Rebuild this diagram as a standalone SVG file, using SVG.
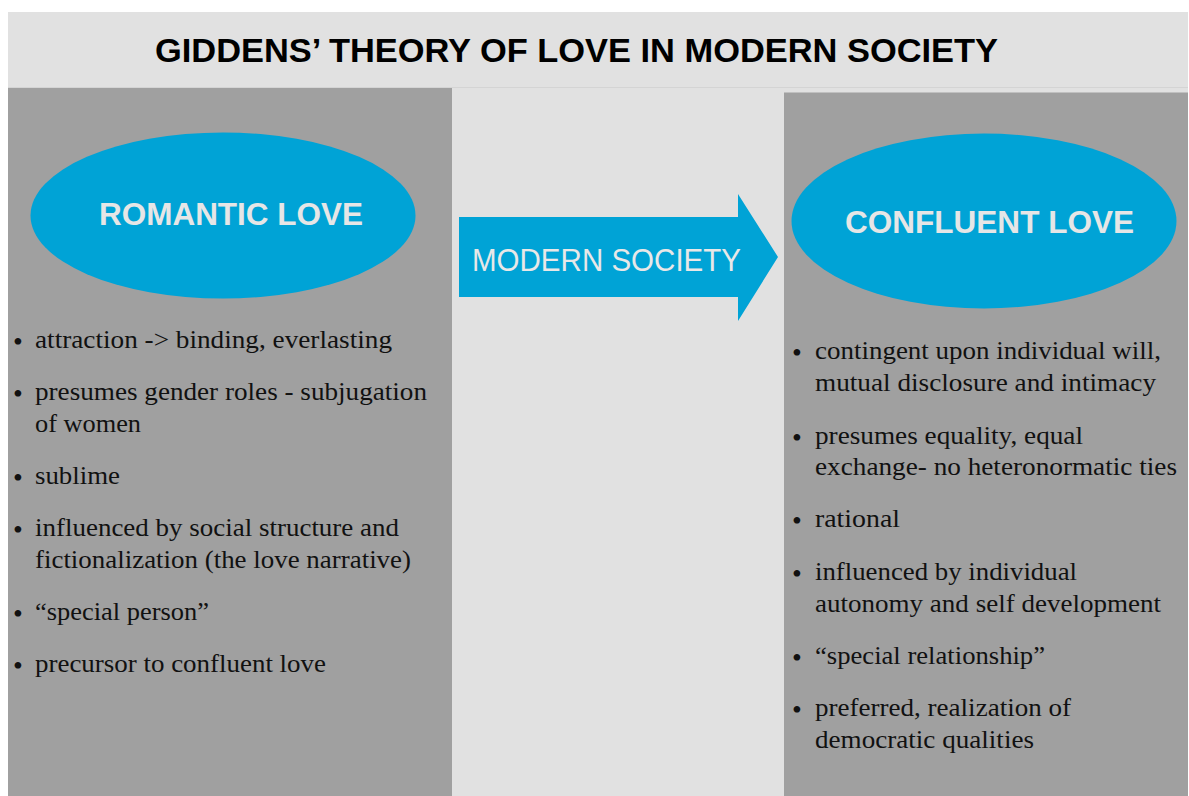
<svg xmlns="http://www.w3.org/2000/svg" width="1189" height="796" viewBox="0 0 1189 796">
  <style>
    .panel { fill: #a0a0a0; }
    .blue { fill: #00a3d6; }
    .title { font-family: "Liberation Sans", Arial, sans-serif; font-weight: bold; font-size: 33px; fill: #000000; }
    .oval { font-family: "Liberation Sans", Arial, sans-serif; font-weight: bold; font-size: 31px; fill: #e6e6e6; text-anchor: middle; }
    .arrowtxt { font-family: "Liberation Sans", Arial, sans-serif; font-size: 31px; fill: #e8e8e8; }
    .item { font-family: "Liberation Serif", "Times New Roman", serif; font-size: 26px; fill: #111111; }
    .bul { font-family: "Liberation Serif", "Times New Roman", serif; font-size: 28px; fill: #111111; text-anchor: middle; }
  </style>
  <rect x="0" y="0" width="1189" height="796" fill="#ffffff"/>
  <rect x="8" y="12" width="1180" height="784" fill="#e1e1e1"/>
  <line x1="8" y1="87.5" x2="1188" y2="87.5" stroke="#d4d4d4" stroke-width="1"/>
  <text class="title" x="155" y="62" textLength="843" lengthAdjust="spacingAndGlyphs">GIDDENS’ THEORY OF LOVE IN MODERN SOCIETY</text>

  <g id="left-panel">
    <rect class="panel" x="8" y="88" width="444" height="708"/>
  </g>
  <g id="right-panel">
    <rect class="panel" x="784" y="92.5" width="404" height="703.5"/>
  </g>

  <g id="romantic-love">
    <ellipse class="blue" cx="223" cy="215.5" rx="192.5" ry="83"/>
    <text class="oval" x="231" y="224.5" textLength="264" lengthAdjust="spacingAndGlyphs">ROMANTIC LOVE</text>
  </g>

  <g id="confluent-love">
    <ellipse class="blue" cx="984" cy="221" rx="192.5" ry="87.5"/>
    <text class="oval" x="989.5" y="232.7" textLength="289" lengthAdjust="spacingAndGlyphs">CONFLUENT LOVE</text>
  </g>

  <g id="connectors">
    <g id="modern-society-arrow">
      <polygon class="blue" points="459,217 738,217 738,194 778,257 738,321 738,297 459,297"/>
      <text class="arrowtxt" x="472" y="270.7" textLength="269" lengthAdjust="spacingAndGlyphs">MODERN SOCIETY</text>
    </g>
  </g>

  <g id="romantic-list">
    <text class="bul" x="18" y="351">•</text>
    <text class="item" x="35" y="348" textLength="357" lengthAdjust="spacingAndGlyphs">attraction -&gt; binding, everlasting</text>
    <text class="bul" x="18" y="403">•</text>
    <text class="item" x="35" y="400" textLength="392" lengthAdjust="spacingAndGlyphs">presumes gender roles - subjugation</text>
    <text class="item" x="35" y="432" textLength="106" lengthAdjust="spacingAndGlyphs">of women</text>
    <text class="bul" x="18" y="487">•</text>
    <text class="item" x="35" y="484" textLength="85" lengthAdjust="spacingAndGlyphs">sublime</text>
    <text class="bul" x="18" y="539">•</text>
    <text class="item" x="35" y="536" textLength="364" lengthAdjust="spacingAndGlyphs">influenced by social structure and</text>
    <text class="item" x="35" y="568" textLength="376" lengthAdjust="spacingAndGlyphs">fictionalization (the love narrative)</text>
    <text class="bul" x="18" y="623">•</text>
    <text class="item" x="35" y="620" textLength="174" lengthAdjust="spacingAndGlyphs">“special person”</text>
    <text class="bul" x="18" y="675">•</text>
    <text class="item" x="35" y="672" textLength="291" lengthAdjust="spacingAndGlyphs">precursor to confluent love</text>
  </g>

  <g id="confluent-list">
    <text class="bul" x="797" y="362">•</text>
    <text class="item" x="815" y="359" textLength="346" lengthAdjust="spacingAndGlyphs">contingent upon individual will,</text>
    <text class="item" x="815" y="391" textLength="341" lengthAdjust="spacingAndGlyphs">mutual disclosure and intimacy</text>
    <text class="bul" x="797" y="447">•</text>
    <text class="item" x="815" y="444" textLength="268" lengthAdjust="spacingAndGlyphs">presumes equality, equal</text>
    <text class="item" x="815" y="475" textLength="362" lengthAdjust="spacingAndGlyphs">exchange- no heteronormatic ties</text>
    <text class="bul" x="797" y="530">•</text>
    <text class="item" x="815" y="527" textLength="85" lengthAdjust="spacingAndGlyphs">rational</text>
    <text class="bul" x="797" y="583">•</text>
    <text class="item" x="815" y="580" textLength="262" lengthAdjust="spacingAndGlyphs">influenced by individual</text>
    <text class="item" x="815" y="612" textLength="346" lengthAdjust="spacingAndGlyphs">autonomy and self development</text>
    <text class="bul" x="797" y="667">•</text>
    <text class="item" x="815" y="664" textLength="230" lengthAdjust="spacingAndGlyphs">“special relationship”</text>
    <text class="bul" x="797" y="719">•</text>
    <text class="item" x="815" y="716" textLength="256" lengthAdjust="spacingAndGlyphs">preferred, realization of</text>
    <text class="item" x="815" y="748" textLength="219" lengthAdjust="spacingAndGlyphs">democratic qualities</text>
  </g>
</svg>
